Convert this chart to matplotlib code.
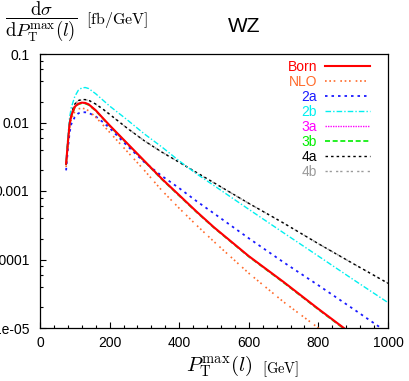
"""WZ: max lepton pT distribution, Born / NLO / approximations."""
import matplotlib
matplotlib.use("Agg")
import matplotlib.pyplot as plt
from matplotlib.ticker import FixedLocator, MultipleLocator, LogLocator, NullFormatter

plt.rcParams["font.family"] = ["Liberation Sans", "DejaVu Sans"]
plt.rcParams["mathtext.fontset"] = "cm"

# pT^max(l) grid [GeV]
pt = [75, 80, 85, 90, 100, 110, 120, 130, 140, 160, 180, 200,
      250, 300, 350, 400, 450, 500, 600, 700, 800, 900, 1000]

# dsigma/dpT [fb/GeV]
born = [2.51e-3, 5.0e-3, 9.55e-3, 1.26e-2, 1.70e-2, 1.88e-2, 1.95e-2, 1.93e-2,
        1.84e-2, 1.51e-2, 1.17e-2, 9.1e-3, 5.0e-3, 2.75e-3, 1.51e-3, 8.7e-4,
        5.0e-4, 2.95e-4, 1.12e-4, 4.7e-5, 1.9e-5, 7.9e-6, 3.5e-6]
nlo = [2.24e-3, 4.68e-3, 8.5e-3, 1.12e-2, 1.45e-2, 1.58e-2, 1.62e-2, 1.58e-2,
       1.48e-2, 1.20e-2, 9.3e-3, 7.2e-3, 3.8e-3, 2.0e-3, 1.02e-3, 5.6e-4,
       3.16e-4, 1.82e-4, 6.3e-5, 2.4e-5, 1.0e-5, 4.2e-6, 1.8e-6]
a2 = [2.0e-3, 3.98e-3, 7.1e-3, 9.5e-3, 1.20e-2, 1.36e-2, 1.41e-2, 1.41e-2,
      1.38e-2, 1.23e-2, 1.02e-2, 8.3e-3, 4.6e-3, 2.63e-3, 1.66e-3, 1.10e-3,
      7.1e-4, 4.7e-4, 2.04e-4, 9.1e-5, 4.2e-5, 1.9e-5, 8.5e-6]
b2 = [2.8e-3, 6.3e-3, 1.17e-2, 1.66e-2, 2.40e-2, 2.95e-2, 3.2e-2, 3.24e-2,
      3.13e-2, 2.63e-2, 2.14e-2, 1.74e-2, 1.10e-2, 6.8e-3, 4.4e-3, 2.75e-3,
      1.78e-3, 1.20e-3, 5.4e-4, 2.45e-4, 1.12e-4, 5.1e-5, 2.35e-5]
a3 = [2.5e-3, 5.0e-3, 9.5e-3, 1.25e-2, 1.69e-2, 1.87e-2, 1.94e-2, 1.92e-2,
      1.83e-2, 1.50e-2, 1.16e-2, 9.0e-3, 4.95e-3, 2.72e-3, 1.50e-3, 8.6e-4,
      4.95e-4, 2.92e-4, 1.11e-4, 4.65e-5, 1.88e-5, 7.8e-6, 3.45e-6]
b3 = [2.45e-3, 4.9e-3, 9.3e-3, 1.23e-2, 1.66e-2, 1.84e-2, 1.91e-2, 1.89e-2,
      1.80e-2, 1.48e-2, 1.15e-2, 8.9e-3, 4.9e-3, 2.7e-3, 1.48e-3, 8.5e-4,
      4.9e-4, 2.9e-4, 1.10e-4, 4.6e-5, 1.86e-5, 7.7e-6, 3.4e-6]
a4 = [2.4e-3, 5.4e-3, 1.0e-2, 1.38e-2, 1.86e-2, 2.09e-2, 2.16e-2, 2.16e-2,
      2.11e-2, 1.86e-2, 1.58e-2, 1.32e-2, 8.3e-3, 5.4e-3, 3.7e-3, 2.63e-3,
      1.86e-3, 1.32e-3, 6.6e-4, 3.4e-4, 1.70e-4, 8.7e-5, 4.5e-5]
b4 = [2.4e-3, 5.3e-3, 1.0e-2, 1.37e-2, 1.85e-2, 2.08e-2, 2.15e-2, 2.15e-2,
      2.10e-2, 1.85e-2, 1.57e-2, 1.31e-2, 8.3e-3, 5.4e-3, 3.7e-3, 2.62e-3,
      1.85e-3, 1.31e-3, 6.6e-4, 3.4e-4, 1.70e-4, 8.7e-5, 4.5e-5]

labels = ["Born", "NLO", "2a", "2b", "3a", "3b", "4a", "4b"]
series = [born, nlo, a2, b2, a3, b3, a4, b4]
colors = ["#ff0000", "#ff6a2a", "#1a1aff", "#00f0f0", "#ff00ff", "#00ee00", "#000000", "#9a9a9a"]
dashes = [None, (1, 1.6, 1, 1.6, 1, 3), (1.4, 2.2), (4, 1.5, 1, 1.5), (1, 0.8),
          (3, 1.6), (1.8, 2.2), (1.6, 1.4, 1.6, 3)]
widths = [1.5, 1.2, 1.3, 1.0, 1.0, 1.2, 1.0, 1.0]

fig = plt.figure(figsize=(4.09, 3.81), dpi=100)
ax = fig.add_axes([40 / 409, 53 / 381, 348 / 409, 274 / 381])

lines = []
# draw in reverse so that Born ends up on top
for lab, y, c, d, w in reversed(list(zip(labels, series, colors, dashes, widths))):
    ln, = ax.plot(pt, y, color=c, lw=w, label=lab)
    if d is not None:
        ln.set_dashes(d)
    lines.append(ln)
lines = lines[::-1]

ax.set_yscale("log")
ax.set_xlim(0, 1000)
ax.set_ylim(1e-5, 0.1)
ax.set_xticks([0, 200, 400, 600, 800, 1000])
ax.xaxis.set_minor_locator(MultipleLocator(40))
ax.yaxis.set_major_locator(FixedLocator([1e-5, 1e-4, 1e-3, 1e-2, 1e-1]))
ax.set_yticklabels(["1e-05", "0.0001", "0.001", "0.01", "0.1"])
ax.yaxis.set_minor_locator(LogLocator(base=10, subs=[2, 4, 6, 8]))
ax.yaxis.set_minor_formatter(NullFormatter())
ax.tick_params(which="both", direction="in", labelsize=10, pad=6,
               top=False, right=False, width=0.8)
ax.tick_params(axis="y", pad=7.5)
ax.tick_params(which="major", length=4)
ax.tick_params(which="minor", length=2.5)
for s in ax.spines.values():
    s.set_linewidth(0.9)

ax.legend(lines, labels, loc="upper right", bbox_to_anchor=(0.948, 0.978),
          frameon=False, markerfirst=False, labelcolor="linecolor",
          fontsize=10, handlelength=3.2, handletextpad=0.6,
          labelspacing=0.07, borderpad=0, borderaxespad=0)

fig.text(5 / 409, 1 - 22 / 381,
         r"$\dfrac{\mathrm{d}\sigma}{\mathrm{d}P_{\mathrm{T}}^{\max}(l)}$",
         fontsize=13.5, va="center", ha="left")
fig.text(86 / 409, 1 - 20 / 381, r"$\mathrm{[fb/GeV]}$", fontsize=11.5,
         va="center", ha="left")
fig.text(244 / 409, 1 - 27 / 381, "WZ", fontsize=15, ha="center", va="center")
fig.text(252 / 409, 1 - 366 / 381, r"$P_{\mathrm{T}}^{\max}(l)$", fontsize=15,
         ha="right", va="center")
fig.text(262 / 409, 1 - 369 / 381, r"$\mathrm{[GeV]}$", fontsize=10.5,
         ha="left", va="center")

fig.savefig("out.png", dpi=100)
